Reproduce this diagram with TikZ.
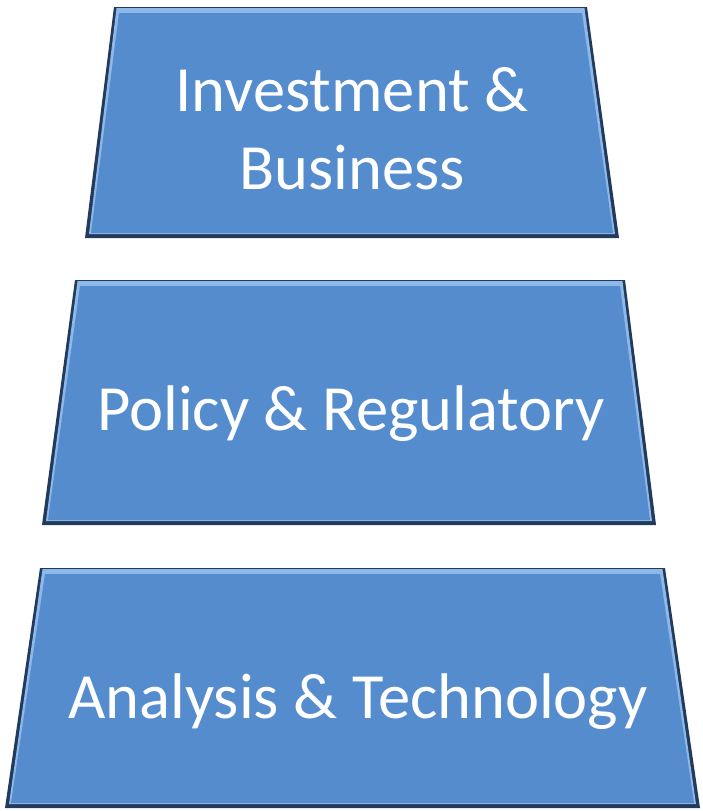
\documentclass[tikz,border=0pt]{standalone}
\usepackage{fontspec}
\setmainfont{Carlito}
\definecolor{mainblue}{RGB}{84,140,206}
\definecolor{darkedge}{RGB}{34,58,92}
\definecolor{lightedge}{RGB}{142,184,232}
\tikzset{
  lbl/.style={text=white, font=\fontsize{64.5}{78}\selectfont, align=center, inner sep=0pt},
}
\usetikzlibrary{calc}
\newcommand{\trapz}[9]{%
  % #1 name, #2 x TL, #3 x TR, #4 y top, #5 x BR, #6 x BL, #7 y bottom
  \coordinate (#1-tl) at (#2,#4);
  \coordinate (#1-tr) at (#3,#4);
  \coordinate (#1-br) at (#5,#7);
  \coordinate (#1-bl) at (#6,#7);
  \fill[darkedge] (#1-tl) -- (#1-tr) -- (#1-br) -- (#1-bl) -- cycle;
  \fill[lightedge] ($(#1-tl)+(2.5,1.2)$) -- ($(#1-tr)+(-2.5,1.2)$) -- ($(#1-br)+(-4,-4)$) -- ($(#1-bl)+(4,-4)$) -- cycle;
  \fill[mainblue] ($(#1-tl)+(5,6)$) -- ($(#1-tr)+(-5,6)$) -- ($(#1-br)+(-6,-5)$) -- ($(#1-bl)+(6,-5)$) -- cycle;
  \coordinate (#1-text) at (#8,#9);
}
\begin{document}
\begin{tikzpicture}[x=1pt,y=-1pt]
\useasboundingbox (0,0) rectangle (702,811);
\fill[white] (0,0) rectangle (702,811);
\trapz{top}{114}{587}{7}{619}{85}{238}{352}{129}
\trapz{mid}{75}{625}{280}{656}{42}{525}{351}{402}
\trapz{bot}{40}{665}{568}{700}{5}{808}{358}{688}
\node[lbl, anchor=center] (t1) at (top-text) {Investment \&\\Business};
\node[lbl, anchor=base] (t2) at (351,430) {Policy \& Regulatory};
\node[lbl, anchor=base] (t3) at (358,718) {Analysis \& Technology};
\end{tikzpicture}
\end{document}
